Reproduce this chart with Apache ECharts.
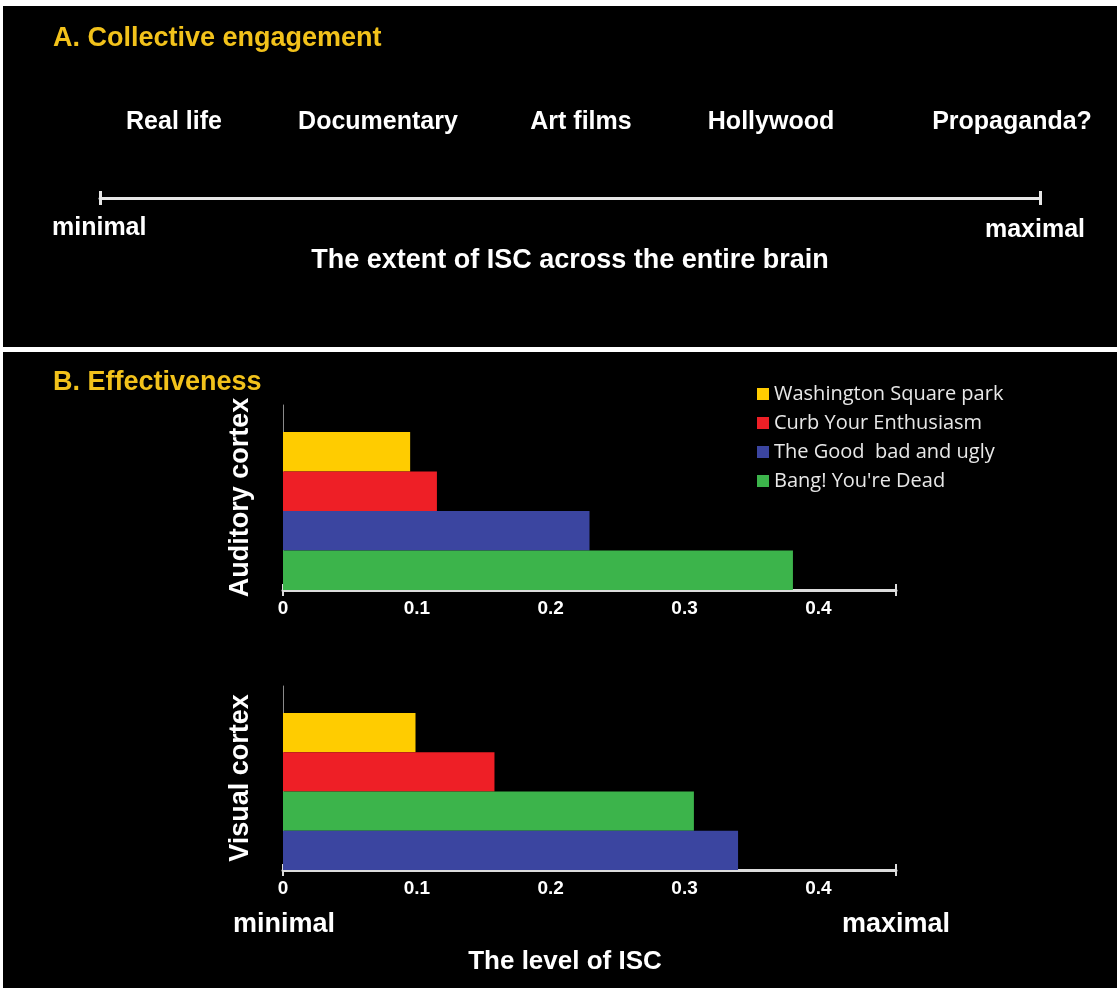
<!DOCTYPE html>
<html>
<head>
<meta charset="utf-8">
<script src="https://cdn.jsdelivr.net/npm/echarts@6/dist/echarts.min.js"></script>
<style>html,body{margin:0;padding:0;background:#fff}#c{width:1119px;height:988px}</style>
</head>
<body>
<div id="c"></div>
<script>
// ---- data ----
const movies = ['Washington Square park', 'Curb Your Enthusiasm', 'The Good  bad and ugly', "Bang! You're Dead"];
const auditoryValues = [0.095, 0.115, 0.229, 0.381];
const visualValues = [0.099, 0.158, 0.340, 0.307];
const auditoryOrder = [0, 1, 2, 3];   // top to bottom
const visualOrder = [0, 1, 3, 2];     // top to bottom
const regions = ['Auditory cortex', 'Visual cortex'];
const xMax = 0.458;
const xInterval = 0.1;
const engagementLabels = ['Real life', 'Documentary', 'Art films', 'Hollywood', 'Propaganda?'];

// ---- style ----
const colors = ['#ffcc00', '#ee1f26', '#3b45a0', '#3cb44b'];
const gold = '#f2c21b';
const F = '"Liberation Sans", Arial, sans-serif';
const labelX = [174, 378, 581, 771, 1012];

const chart = echarts.init(document.getElementById('c'), null, {renderer: 'canvas'});

function txt(text, x, y, size, color, align) {
  return {type: 'text', x: x, y: y, z: 10,
    style: {text: text, fill: color || '#fff', font: 'bold ' + size + 'px ' + F,
      align: align || 'center', verticalAlign: 'middle',
      textAlign: align || 'center', textVerticalAlign: 'middle'}};
}

function barSeries(values, order, xi, yi) {
  return order.map(i => ({
    type: 'bar', name: movies[i], xAxisIndex: xi, yAxisIndex: yi,
    data: [values[i]], itemStyle: {color: colors[i]},
    barGap: '0%', barCategoryGap: '0%', animation: false
  }));
}

const hiddenY = (gi, cat) => ({gridIndex: gi, type: 'category', data: [cat],
  axisLine: {show: false}, axisTick: {show: false}, axisLabel: {show: false}, splitLine: {show: false}});

function frameY(gi, name) {
  return {gridIndex: gi, type: 'category', data: [name],
    axisLine: {show: true, lineStyle: {color: '#8a8a8a', width: 1}},
    axisTick: {show: false}, axisLabel: {show: false}, splitLine: {show: false},
    name: name, nameLocation: 'middle', nameRotate: 90, nameGap: 29,
    nameTextStyle: {color: '#fff', fontFamily: F, fontWeight: 'bold', fontSize: 27}};
}

function labelAxis(gi) {
  return {gridIndex: gi, type: 'value', min: 0, max: xMax, interval: xInterval, position: 'bottom',
    axisLine: {show: true, lineStyle: {color: '#dcdcdc', width: 3}},
    axisTick: {show: false}, splitLine: {show: false},
    axisLabel: {show: true, showMaxLabel: false, color: '#fff', fontFamily: F, fontWeight: 'bold', fontSize: 19, margin: 9,
      formatter: v => (v === 0 ? '0' : v.toFixed(1))}};
}
function tickAxis(gi, inside) {
  return {gridIndex: gi, type: 'value', min: 0, max: xMax, interval: xMax, position: 'bottom',
    axisLine: {show: false}, axisLabel: {show: false}, splitLine: {show: false},
    axisTick: {show: true, inside: inside, length: 6, lineStyle: {color: '#dcdcdc', width: 2}}};
}

const option = {
  backgroundColor: '#fff',
  animation: false,
  graphic: {elements: [
    {type: 'rect', z: -10, shape: {x: 3, y: 6, width: 1114, height: 341}, style: {fill: '#000'}},
    {type: 'rect', z: -10, shape: {x: 3, y: 352, width: 1114, height: 636}, style: {fill: '#000'}},
    txt('A. Collective engagement', 53, 39, 27, gold, 'left'),
    txt('B. Effectiveness', 53, 383, 27, gold, 'left'),
    ...engagementLabels.map((t, i) => txt(t, labelX[i], 122, 25)),
    txt('minimal', 52, 228, 25, '#fff', 'left'),
    txt('maximal', 1085, 230, 25, '#fff', 'right'),
    txt('The extent of ISC across the entire brain', 570, 261, 27),
    txt('minimal', 233, 925, 27, '#fff', 'left'),
    txt('maximal', 950, 925, 27, '#fff', 'right'),
    txt('The level of ISC', 565, 962, 26)
  ]},
  legend: {
    data: movies, orient: 'vertical', left: 752, top: 379,
    itemWidth: 12, itemHeight: 12, itemGap: 9, icon: 'rect',
    textStyle: {color: '#e8e8e8', fontFamily: '"Open Sans", sans-serif', fontSize: 20},
    selectedMode: false
  },
  grid: [
    {left: 100, width: 940, top: 150, height: 48},
    {left: 283, width: 613, top: 405, height: 185},
    {left: 283, width: 613, top: 432, height: 158},
    {left: 283, width: 613, top: 686, height: 184},
    {left: 283, width: 613, top: 713, height: 157}
  ],
  xAxis: [
    {gridIndex: 0, type: 'value', min: 0, max: 1, interval: 1, position: 'bottom',
      axisLine: {show: true, lineStyle: {color: '#e6e6e6', width: 3}}, axisLabel: {show: false}, splitLine: {show: false},
      axisTick: {show: true, length: 7, lineStyle: {color: '#e6e6e6', width: 3}}},
    {gridIndex: 0, type: 'value', min: 0, max: 1, interval: 1, position: 'bottom',
      axisLine: {show: false}, axisLabel: {show: false}, splitLine: {show: false},
      axisTick: {show: true, inside: true, length: 7, lineStyle: {color: '#e6e6e6', width: 3}}},
    labelAxis(1), tickAxis(1, true), tickAxis(2, false),
    labelAxis(3), tickAxis(3, true), tickAxis(4, false)
  ],
  yAxis: [
    {gridIndex: 0, type: 'value', show: false},
    frameY(1, regions[0]), hiddenY(2, regions[0]),
    frameY(3, regions[1]), hiddenY(4, regions[1])
  ],
  series: [
    ...barSeries(auditoryValues, auditoryOrder, 4, 2),
    ...barSeries(visualValues, visualOrder, 7, 4)
  ]
};
chart.setOption(option);
</script>
</body>
</html>
